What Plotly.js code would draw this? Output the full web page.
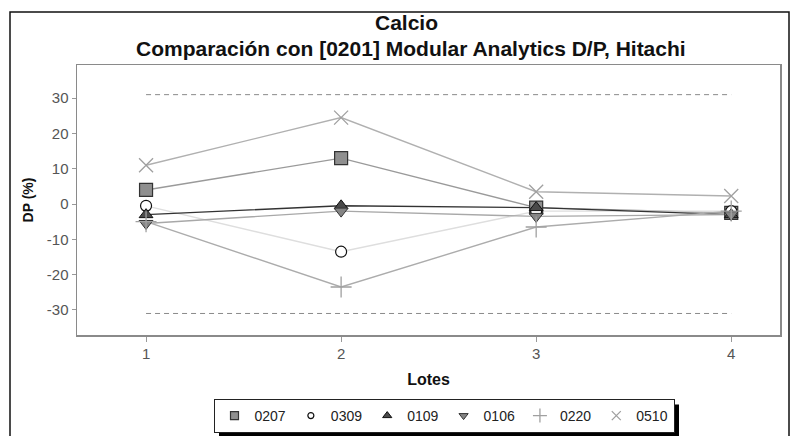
<!DOCTYPE html>
<html>
<head>
<meta charset="utf-8">
<script src="https://cdn.plot.ly/plotly-3.0.1.min.js"></script>
<style>
html,body{margin:0;padding:0;background:#fff;}
#chart{width:793px;height:436px;}
</style>
</head>
<body>
<div id="chart"></div>
<script>
// Data
const lotes = [1, 2, 3, 4];
const seriesNames = ["0207", "0309", "0109", "0106", "0220", "0510"];
const s0207 = [4, 13, -1, -2.5];
const s0309 = [-0.5, -13.5, -2, -2];
const s0109 = [-3, -0.5, -1, -3];
const s0106 = [-5.5, -2, -3.5, -3];
const s0220 = [-5, -23.5, -6.5, -2];
const s0510 = [11, 24.5, 3.5, 2.3];
const limitX = [1, 4];
const upperLimit = [31, 31];
const lowerLimit = [-31, -31];
const yTicks = [-30, -20, -10, 0, 10, 20, 30];
const xTicks = [1, 2, 3, 4];
const titleLine1 = "Calcio";
const titleLine2 = "Comparación con [0201] Modular Analytics D/P, Hitachi";

const seriesValues = [s0207, s0309, s0109, s0106, s0220, s0510];
const lineColors = ["#9a9a9a", "#dedede", "#333333", "#a8a8a8", "#acacac", "#b0b0b0"];
const markerStyles = [
  {symbol: "square", size: 13, color: "#8f8f8f", line: {color: "#333", width: 1.2}},
  {symbol: "circle", size: 11, color: "#ffffff", line: {color: "#111", width: 1.2}},
  {symbol: "triangle-up", size: 12, color: "#4a4a4a", line: {color: "#111", width: 1}},
  {symbol: "triangle-down", size: 12, color: "#858585", line: {color: "#333", width: 1}},
  {symbol: "cross-thin", size: 15, color: "#a0a0a0", line: {color: "#a0a0a0", width: 1.3}},
  {symbol: "x-thin", size: 14, color: "#a0a0a0", line: {color: "#a0a0a0", width: 1.3}}
];
const legendMarkerSizes = [8, 6, 8, 8, 10, 9];

const traces = [];
// limit lines
traces.push({x: limitX, y: upperLimit, mode: "lines", line: {color: "#8a8a8a", width: 1, dash: "5px,4px"}, showlegend: false, hoverinfo: "skip"});
traces.push({x: limitX, y: lowerLimit, mode: "lines", line: {color: "#8a8a8a", width: 1, dash: "5px,4px"}, showlegend: false, hoverinfo: "skip"});
// series lines
seriesValues.forEach((vals, i) => {
  traces.push({x: lotes, y: vals, mode: "lines", line: {color: lineColors[i], width: 1.4}, showlegend: false});
});
// series markers
seriesValues.forEach((vals, i) => {
  traces.push({x: lotes, y: vals, mode: "markers", name: seriesNames[i], marker: markerStyles[i], showlegend: false});
});
// legend entries (small symbols as in the reference legend)
seriesValues.forEach((vals, i) => {
  const m = Object.assign({}, markerStyles[i], {size: legendMarkerSizes[i]});
  traces.push({x: [null], y: [null], mode: "markers", name: seriesNames[i], marker: m, showlegend: true});
});

const W = 793, H = 436;
const L = 77, R = 13, T = 65, B = 101;
const pw = W - L - R, ph = H - T - B;
const px = (p) => (p - L) / pw;
const py = (p) => (H - B - p) / ph;

const titleFont = {family: "Liberation Sans, Arial, sans-serif", size: 21, color: "#111", weight: "bold"};

const layout = {
  width: W, height: H,
  margin: {l: L, r: R, t: T, b: B, pad: 0, autoexpand: false},
  paper_bgcolor: "#ffffff", plot_bgcolor: "#ffffff",
  font: {family: "Liberation Sans, Arial, sans-serif", color: "#444"},
  annotations: [
    {text: titleLine1, xref: "paper", yref: "paper", x: px(406), y: py(22), xanchor: "center", yanchor: "middle", showarrow: false, font: titleFont},
    {text: titleLine2, xref: "paper", yref: "paper", x: px(411), y: py(48), xanchor: "center", yanchor: "middle", showarrow: false, font: titleFont}
  ],
  xaxis: {
    range: [0.646, 4.25], tickvals: xTicks, ticktext: xTicks.map(String),
    ticks: "outside", ticklen: 5, tickcolor: "#999", tickfont: {size: 15, color: "#555"}, ticklabelstandoff: -1,
    showgrid: false, zeroline: false, showline: true, linecolor: "#8a8a8a", linewidth: 1.5, mirror: true,
    title: {text: "<b>Lotes</b>", font: {size: 16, color: "#111"}, standoff: 13}
  },
  yaxis: {
    range: [-37.1, 39.4], tickvals: yTicks, ticktext: yTicks.map(String),
    ticks: "outside", ticklen: 4, tickcolor: "#999", tickfont: {size: 15, color: "#555"},
    showgrid: false, zeroline: false, showline: true, linecolor: "#8a8a8a", linewidth: 1.5, mirror: true,
    title: {text: "<b>DP (%)</b>", font: {size: 14, color: "#111"}, standoff: 10}
  },
  showlegend: true,
  legend: {
    orientation: "h", x: px(444), xanchor: "center", y: py(399), yanchor: "top",
    bgcolor: "#ffffff", bordercolor: "#222", borderwidth: 1,
    font: {size: 14, color: "#222"}, itemwidth: 30, tracegroupgap: 0
  },
  shapes: [
    {type: "rect", xref: "paper", yref: "paper", x0: px(10), x1: px(789), y0: py(460), y1: py(12), line: {color: "#111", width: 1.5}, fillcolor: "rgba(0,0,0,0)", layer: "below"}
  ]
};

Plotly.newPlot("chart", traces, layout, {displayModeBar: false, staticPlot: true}).then(function (gd) {
  // drop shadow behind the legend box, sized from the rendered legend
  const bg = gd.querySelector(".legend .bg");
  const svg = gd.querySelector(".main-svg");
  if (!bg || !svg) return;
  const r = bg.getBoundingClientRect();
  const s = svg.getBoundingClientRect();
  const x0 = r.left - s.left + 5, x1 = r.right - s.left + 5;
  const y0 = r.top - s.top + 5, y1 = r.bottom - s.top + 5;
  const shapes = gd.layout.shapes.concat([
    {type: "rect", xref: "paper", yref: "paper", x0: px(x0), x1: px(x1), y0: py(y1), y1: py(y0), line: {width: 0}, fillcolor: "#000", layer: "above"}
  ]);
  return Plotly.relayout(gd, {shapes: shapes});
});
</script>
</body>
</html>
